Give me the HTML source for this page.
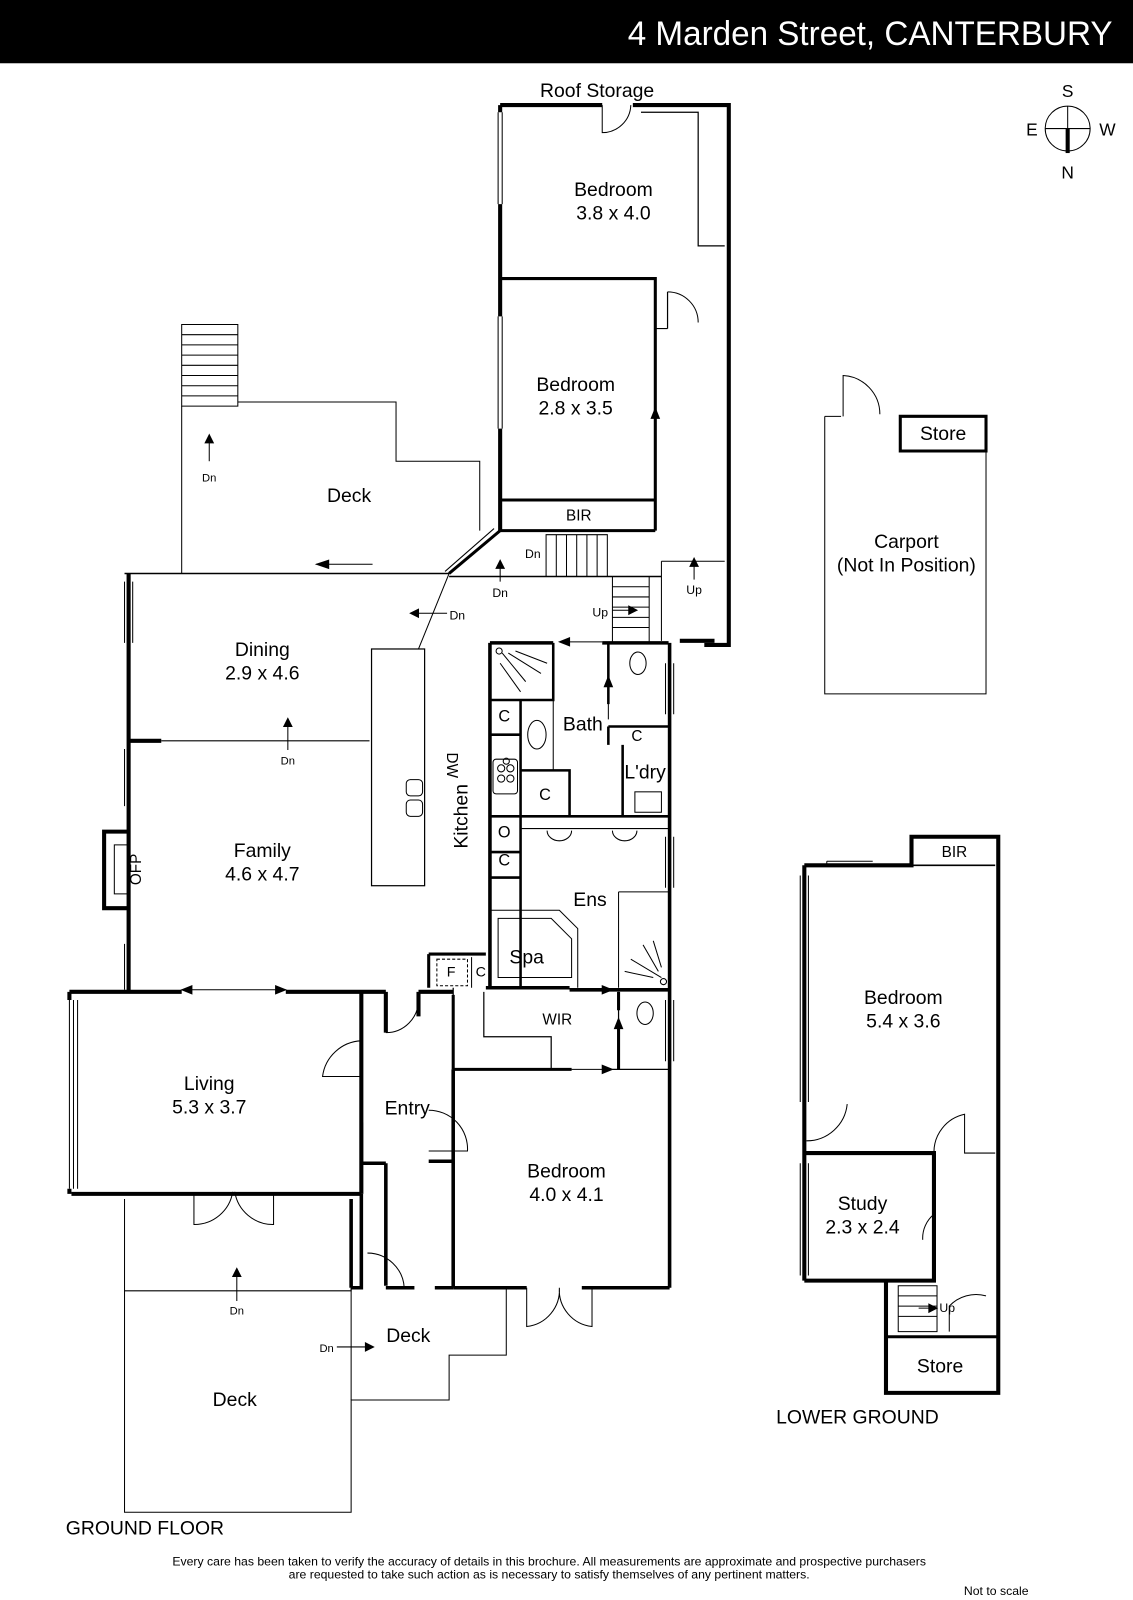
<!DOCTYPE html>
<html><head><meta charset="utf-8"><style>
html,body{margin:0;padding:0;background:#fff;width:1133px;height:1600px;overflow:hidden}
svg{display:block}
text{font-family:"Liberation Sans",sans-serif;fill:#000}
.l{font-size:19px;text-anchor:middle;font-weight:500}
.s{font-size:13px;text-anchor:middle}
</style></head><body>
<svg width="1133" height="1600" viewBox="0 0 1110 1568" preserveAspectRatio="none">
<rect x="0" y="0" width="1110" height="62" fill="#000"/>
<text x="1090" y="44" font-size="34" fill="#fff" text-anchor="end" style="fill:#fff" textLength="475" lengthAdjust="spacingAndGlyphs">4 Marden Street, CANTERBURY</text>

<g stroke="#000" fill="none">
<circle cx="1046" cy="126" r="22" stroke-width="1"/>
<line x1="1024" y1="126" x2="1068" y2="126" stroke-width="1"/>
<line x1="1046" y1="104" x2="1046" y2="126" stroke-width="1"/>
<line x1="1046" y1="126" x2="1046" y2="150" stroke-width="4"/>
</g>
<text x="1046" y="95" font-size="17" text-anchor="middle">S</text>
<text x="1046" y="175" font-size="17" text-anchor="middle">N</text>
<text x="1011" y="133" font-size="17" text-anchor="middle">E</text>
<text x="1085" y="133" font-size="17" text-anchor="middle">W</text>

<g fill="none" stroke="#000">
<path d="M490 103 V110 M490 200 V310 M490 420 V520 M490 103 H590 M620 103 H714 V632 H690" stroke-width="4"/>
<path d="M490 273 H642 V520 M490 490 H642 M490 520 H642" stroke-width="3"/>
<path d="M628 110 H684 V241 H710 M654 286 V322 M642 322 H654" stroke-width="1.2"/>
<path d="M492 110 V200 M488 110 V200 M492 310 V420 M488 310 V420" stroke-width="1"/>
<path d="M590 103 V130 A28 28 0 0 0 618 103 M654 286 A30 30 0 0 1 684 316" stroke-width="1"/>
<line x1="642" y1="342" x2="642" y2="450" stroke-width="1"/>
<path d="M638 410 L642 400 L646 410 Z" fill="#000"/>
<path d="M535 524 H595 V565 H535 Z M545 524 V565 M555 524 V565 M565 524 V565 M575 524 V565 M585 524 V565" stroke-width="1"/>
<path d="M600 565 H636 V630 H600 Z M600 575 H636 M600 585 H636 M600 595 H636 M600 605 H636 M600 615 H636" stroke-width="1"/>
<path d="M648 550 H710 M648 550 V628" stroke-width="1"/>
<path d="M666 628 H700" stroke-width="4"/>
<path d="M178 318 H233 V398 H178 Z M178 328 H233 M178 338 H233 M178 348 H233 M178 358 H233 M178 368 H233 M178 378 H233 M178 388 H233" stroke-width="1"/>
<path d="M178 398 V562 M233 394 H388 V452 H470 V520" stroke-width="1"/>
<path d="M490 520 L440 562" stroke-width="3"/>
<path d="M484 518 L436 560" stroke-width="1"/>
<path d="M122 562 H440 M440 565 H648" stroke-width="1.5"/>
<path d="M126 562 V972" stroke-width="4"/>
<path d="M122 570 V630 M130 570 V630 M122 734 V790 M122 925 V970" stroke-width="1"/>
<path d="M158 726 H362" stroke-width="1"/>
<path d="M126 726 H158" stroke-width="4"/>
<path d="M440 562 L410 636" stroke-width="1"/>
<rect x="364" y="636" width="52" height="232" stroke-width="1.2"/>
<rect x="398" y="764" width="16" height="16" rx="4" stroke-width="1"/>
<rect x="398" y="784" width="16" height="16" rx="4" stroke-width="1"/>
<path d="M126 815 H102 V890 H126" stroke-width="4"/>
<path d="M112 828 H126 V876 H112 Z" stroke-width="1"/>
<path d="M480 630 H542 M590 630 H655 M480 630 V968 M476 968 H558 M558 970 H598 M598 970 H655 M656 630 V1262" stroke-width="3.5"/>
<path d="M480 686 H542 V630 M480 720 H510 V686 M480 800 H655 M510 686 V968 M510 755 H558 V800 M596 630 V690 M596 712 H656 V730 M596 712 V730 M610 730 V800 M480 835 H510 M480 860 H510" stroke-width="2.5"/>
<path d="M542 686 V755 M511 812 H655 M606 874 H655 V968 M606 874 V968 M480 892 H548 L566 910 V968" stroke-width="1"/>
<path d="M488 900 H540 L560 920 V958 H488 Z" stroke-width="1" />
<path d="M492 640 L515 668 M498 640 L530 660 M490 650 L510 678 M505 638 L536 650" stroke-width="1"/>
<circle cx="489" cy="638" r="3" stroke-width="1"/>
<path d="M648 958 L618 940 M645 952 L630 926 M640 958 L612 952 M648 948 L640 922" stroke-width="1"/>
<circle cx="650" cy="962" r="3" stroke-width="1"/>
<ellipse cx="526" cy="720" rx="9" ry="14" stroke-width="1"/>
<ellipse cx="625" cy="650" rx="8" ry="11" stroke-width="1"/>
<ellipse cx="632" cy="993" rx="8" ry="11" stroke-width="1"/>
<path d="M536 814 A12 10 0 0 0 560 814 M600 814 A12 10 0 0 0 624 814" stroke-width="1"/>
<rect x="483" y="744" width="24" height="34" rx="3" stroke-width="1"/>
<circle cx="491" cy="753" r="3.5" stroke-width="1"/><circle cx="500" cy="753" r="3.5" stroke-width="1"/>
<circle cx="491" cy="763" r="3.5" stroke-width="1"/><circle cx="500" cy="763" r="3.5" stroke-width="1"/>
<circle cx="496" cy="746" r="3" stroke-width="1"/>
<rect x="622" y="776" width="26" height="20" stroke-width="1"/>
<path d="M652 650 V700 M660 650 V700 M652 820 V870 M660 820 V870 M652 980 V1040 M660 980 V1040" stroke-width="1"/>
<path d="M444 968 V1048 M444 1048 H560 M600 1048 H656 M606 972 V1048 M474 972 V1016 H540 V1048" stroke-width="1.2"/>
<path d="M444 1048 H560 M606 1000 V1048 M606 972 V990 M444 975 V1048" stroke-width="3"/>
<path d="M420 935 H476 M420 935 V968" stroke-width="3"/>
<rect x="428" y="940" width="30" height="26" stroke-width="1" stroke-dasharray="3,2"/>
<path d="M462 938 V968" stroke-width="1"/>
<path d="M68 972 H178 M280 972 H378 M410 972 H444 M70 1170 H354 M354 972 V1170 M378 972 V1012 M410 972 V996" stroke-width="4"/>
<path d="M68 972 V980 M68 1165 V1170" stroke-width="4"/>
<path d="M68 980 V1165 M72 980 V1165 M76 980 V1165" stroke-width="1"/>
<path d="M378 1012 A32 32 0 0 0 410 980 M354 1020 A40 40 0 0 0 316 1055 H354" stroke-width="1"/>
<path d="M190 1170 V1200 A38 38 0 0 0 228 1168 M268 1170 V1200 A38 38 0 0 1 230 1168" stroke-width="1"/>
<path d="M354 1100 V1140 H378 M378 1140 V1260 M420 1138 H444 M444 1048 V1262" stroke-width="3.5"/>
<path d="M444 1262 H516 M570 1262 H656" stroke-width="3.5"/>
<path d="M420 1088 A38 38 0 0 1 458 1128 H420" stroke-width="1"/>
<path d="M516 1262 V1300 A36 36 0 0 0 548 1262 M580 1262 V1300 A36 36 0 0 1 548 1262" stroke-width="1"/>
<path d="M354 1170 V1262 H344 M344 1175 V1262 M378 1262 H406 M426 1262 H444" stroke-width="3.5"/>
<path d="M360 1228 A36 36 0 0 1 396 1262" stroke-width="1"/>
<path d="M122 1175 V1482 H344 V1372 H440 V1328 H496 V1262 M122 1265 H344 V1262" stroke-width="1"/>
<path d="M344 1262 V1372" stroke-width="1"/>
<path d="M808 408 V680 H966 V408 H882 M808 408 H824" stroke-width="1"/>
<path d="M882 408 H966 V442 H882 Z" stroke-width="3"/>
<path d="M826 408 V368 A38 38 0 0 1 862 406" stroke-width="1"/>
<path d="M788 848 V1255 M788 848 H893 V820 H978 V1365 H868 V1255 H915 V1130 H788 M788 1255 H868" stroke-width="4"/>
<path d="M893 848 H975" stroke-width="1.5"/>
<path d="M784 858 V1080 M792 858 V1080 M784 1140 V1250 M792 1140 V1250 M810 848 V844 M810 844 H855" stroke-width="1"/>
<path d="M830 1082 A40 40 0 0 1 790 1118 M915 1130 A38 38 0 0 1 945 1092 V1130 H975 M915 1190 A30 30 0 0 0 904 1215" stroke-width="1"/>
<path d="M868 1310 H978" stroke-width="3"/>
<path d="M880 1260 H918 V1305 H880 Z M880 1270 H918 M880 1280 H918 M880 1290 H918" stroke-width="1"/>
<path d="M930 1305 V1280 A36 36 0 0 1 966 1270" stroke-width="1"/>
</g>
<g stroke="#000" stroke-width="1" fill="#000">
<line x1="310" y1="553" x2="365" y2="553"/><path d="M310 553 L322 549 L322 557Z"/>
<line x1="205" y1="428" x2="205" y2="452" /><path d="M205 426 L201 434 L209 434Z"/>
<line x1="282" y1="706" x2="282" y2="735"/><path d="M282 704 L278 712 L286 712Z"/>
<line x1="490" y1="552" x2="490" y2="570"/><path d="M490 549 L486 557 L494 557Z"/>
<line x1="404" y1="601" x2="438" y2="601"/><path d="M402 601 L410 597 L410 605Z"/>
<line x1="550" y1="629" x2="590" y2="629"/><path d="M548 629 L558 625 L558 633Z"/>
<line x1="600" y1="598" x2="622" y2="598"/><path d="M624 598 L616 594 L616 602Z"/>
<line x1="680" y1="550" x2="680" y2="568"/><path d="M680 547 L676 555 L684 555Z"/>
<line x1="178" y1="970" x2="280" y2="970"/><path d="M178 970 L188 966 L188 974Z"/><path d="M280 970 L270 966 L270 974Z"/>
<line x1="232" y1="1245" x2="232" y2="1275"/><path d="M232 1243 L228 1251 L236 1251Z"/>
<line x1="330" y1="1320" x2="364" y2="1320"/><path d="M366 1320 L358 1316 L358 1324Z"/>
<line x1="596" y1="665" x2="596" y2="705"/><path d="M596 663 L592 673 L600 673Z"/>
<line x1="560" y1="970" x2="598" y2="970"/><path d="M600 970 L590 966 L590 974Z"/>
<line x1="560" y1="1048" x2="598" y2="1048"/><path d="M600 1048 L590 1044 L590 1052Z"/>
<line x1="606" y1="1000" x2="606" y2="1045"/><path d="M606 998 L602 1008 L610 1008Z"/>
<line x1="900" y1="1282" x2="918" y2="1282"/><path d="M918 1282 L910 1278 L910 1286Z"/>
</g>
<text x="585" y="95" class="l">Roof Storage</text>
<text x="601" y="192" class="l">Bedroom</text><text x="601" y="215" class="l">3.8 x 4.0</text>
<text x="564" y="383" class="l">Bedroom</text><text x="564" y="406" class="l">2.8 x 3.5</text>
<text x="567" y="510" class="s" style="font-size:15px">BIR</text>
<text x="342" y="492" class="l">Deck</text>
<text x="205" y="472" class="s" style="font-size:11px">Dn</text>
<text x="522" y="547" class="s" style="font-size:12px">Dn</text>
<text x="490" y="585" class="s" style="font-size:12px">Dn</text>
<text x="448" y="607" class="s" style="font-size:12px">Dn</text>
<text x="588" y="604" class="s" style="font-size:12px">Up</text>
<text x="680" y="582" class="s" style="font-size:12px">Up</text>
<text x="257" y="643" class="l">Dining</text><text x="257" y="666" class="l">2.9 x 4.6</text>
<text x="282" y="749" class="s" style="font-size:11px">Dn</text>
<text x="257" y="840" class="l">Family</text><text x="257" y="863" class="l">4.6 x 4.7</text>
<text x="138" y="852" class="s" style="font-size:15px" transform="rotate(-90 138 852)">OFP</text>
<text x="438" y="750" class="s" style="font-size:15px" transform="rotate(90 438 750)">DW</text>
<text x="458" y="800" class="l" transform="rotate(-90 458 800)">Kitchen</text>
<text x="571" y="716" class="l">Bath</text>
<text x="632" y="763" class="l">L'dry</text>
<text x="494" y="707" class="s" style="font-size:16px">C</text>
<text x="534" y="784" class="s" style="font-size:16px">C</text>
<text x="624" y="726" class="s" style="font-size:15px">C</text>
<text x="494" y="821" class="s" style="font-size:16px">O</text>
<text x="494" y="848" class="s" style="font-size:16px">C</text>
<text x="578" y="888" class="l">Ens</text>
<text x="516" y="944" class="l">Spa</text>
<text x="442" y="957" class="s" style="font-size:14px">F</text>
<text x="471" y="957" class="s" style="font-size:14px">C</text>
<text x="546" y="1004" class="s" style="font-size:15px">WIR</text>
<text x="205" y="1068" class="l">Living</text><text x="205" y="1091" class="l">5.3 x 3.7</text>
<text x="399" y="1092" class="l">Entry</text>
<text x="555" y="1154" class="l">Bedroom</text><text x="555" y="1177" class="l">4.0 x 4.1</text>
<text x="232" y="1288" class="s" style="font-size:11px">Dn</text>
<text x="400" y="1315" class="l">Deck</text>
<text x="320" y="1325" class="s" style="font-size:11px">Dn</text>
<text x="230" y="1378" class="l">Deck</text>
<text x="888" y="537" class="l">Carport</text><text x="888" y="560" class="l">(Not In Position)</text>
<text x="924" y="431" class="l">Store</text>
<text x="935" y="840" class="s" style="font-size:15px">BIR</text>
<text x="885" y="984" class="l">Bedroom</text><text x="885" y="1007" class="l">5.4 x 3.6</text>
<text x="845" y="1186" class="l">Study</text><text x="845" y="1209" class="l">2.3 x 2.4</text>
<text x="928" y="1286" class="s" style="font-size:12px">Up</text>
<text x="921" y="1345" class="l">Store</text>
<text x="840" y="1395" class="l">LOWER GROUND</text>
<text x="142" y="1504" class="l">GROUND FLOOR</text>
<text x="538" y="1534" class="s" style="font-size:12px">Every care has been taken to verify the accuracy of details in this brochure.  All measurements are approximate and prospective purchasers</text>
<text x="538" y="1547" class="s" style="font-size:12px">are requested to take such action as is necessary to satisfy themselves of any pertinent matters.</text>
<text x="976" y="1563" class="s" style="font-size:12px">Not to scale</text>
</svg>
</body></html>
